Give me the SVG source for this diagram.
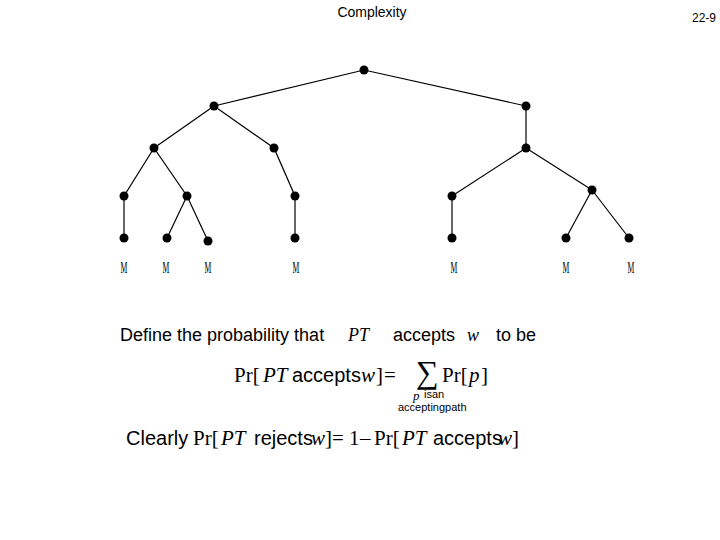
<svg xmlns="http://www.w3.org/2000/svg" width="720" height="540" viewBox="0 0 720 540">
<style>
.e{stroke:#000;stroke-width:1.2;fill:none}
.n{fill:#000}
.m{font-family:"Liberation Serif",serif;font-size:17px;fill:#000}
.s{font-family:"Liberation Sans",Arial,sans-serif;fill:#000}
.r{font-family:"Liberation Serif",serif;fill:#000}
.i{font-family:"Liberation Serif",serif;font-style:italic;fill:#000}
</style>
<rect width="720" height="540" fill="#fff"/>
<text class="s" x="372" y="17" font-size="14" text-anchor="middle">Complexity</text>
<text class="s" x="716" y="22" font-size="12" text-anchor="end">22-9</text>
<g id="connectors">
<line class="e" x1="364" y1="70" x2="214" y2="106"/>
<line class="e" x1="364" y1="70" x2="526" y2="106"/>
<line class="e" x1="214" y1="106" x2="154" y2="148"/>
<line class="e" x1="214" y1="106" x2="274" y2="148"/>
<line class="e" x1="154" y1="148" x2="124" y2="196"/>
<line class="e" x1="154" y1="148" x2="187" y2="196"/>
<line class="e" x1="274" y1="148" x2="295" y2="196"/>
<line class="e" x1="124" y1="196" x2="124" y2="238"/>
<line class="e" x1="187" y1="196" x2="167" y2="238"/>
<line class="e" x1="187" y1="196" x2="208" y2="241"/>
<line class="e" x1="295" y1="196" x2="295" y2="238"/>
<line class="e" x1="526" y1="106" x2="526" y2="148"/>
<line class="e" x1="526" y1="148" x2="452" y2="196"/>
<line class="e" x1="526" y1="148" x2="592" y2="190"/>
<line class="e" x1="452" y1="196" x2="452" y2="238"/>
<line class="e" x1="592" y1="190" x2="566" y2="238"/>
<line class="e" x1="592" y1="190" x2="629" y2="238"/>
</g>
<g id="root"><circle class="n" cx="364" cy="70" r="4.5"/></g>
<g id="n1"><circle class="n" cx="214" cy="106" r="4.5"/></g>
<g id="n2"><circle class="n" cx="526" cy="106" r="4.5"/></g>
<g id="n3"><circle class="n" cx="154" cy="148" r="4.5"/></g>
<g id="n4"><circle class="n" cx="274" cy="148" r="4.5"/></g>
<g id="n5"><circle class="n" cx="526" cy="148" r="4.5"/></g>
<g id="n6"><circle class="n" cx="124" cy="196" r="4.5"/></g>
<g id="n7"><circle class="n" cx="187" cy="196" r="4.5"/></g>
<g id="n8"><circle class="n" cx="295" cy="196" r="4.5"/></g>
<g id="n9"><circle class="n" cx="452" cy="196" r="4.5"/></g>
<g id="n10"><circle class="n" cx="592" cy="190" r="4.5"/></g>
<g id="l1"><circle class="n" cx="124" cy="238" r="4.5"/><text class="m" transform="translate(124 273) scale(0.45 1)" text-anchor="middle">M</text></g>
<g id="l2"><circle class="n" cx="167" cy="238" r="4.5"/><text class="m" transform="translate(166 273) scale(0.45 1)" text-anchor="middle">M</text></g>
<g id="l3"><circle class="n" cx="208" cy="241" r="4.5"/><text class="m" transform="translate(208 273) scale(0.45 1)" text-anchor="middle">M</text></g>
<g id="l4"><circle class="n" cx="295" cy="238" r="4.5"/><text class="m" transform="translate(296 273) scale(0.45 1)" text-anchor="middle">M</text></g>
<g id="l5"><circle class="n" cx="452" cy="238" r="4.5"/><text class="m" transform="translate(454 273) scale(0.45 1)" text-anchor="middle">M</text></g>
<g id="l6"><circle class="n" cx="566" cy="238" r="4.5"/><text class="m" transform="translate(566 273) scale(0.45 1)" text-anchor="middle">M</text></g>
<g id="l7"><circle class="n" cx="629" cy="238" r="4.5"/><text class="m" transform="translate(631 273) scale(0.45 1)" text-anchor="middle">M</text></g>
<text class="s" x="120" y="341" font-size="18">Define the probability that</text>
<text class="i" x="348" y="341" font-size="18" fill="#444">PT</text>
<text class="s" x="393" y="341" font-size="18">accepts</text>
<text class="i" x="467" y="341" font-size="18">w</text>
<text class="s" x="496" y="341" font-size="18">to be</text>
<text class="r" x="234" y="382" font-size="21">Pr[</text>
<text class="i" x="263" y="382" font-size="21">PT</text>
<text class="s" x="292" y="382" font-size="20">accepts</text>
<text class="i" x="361" y="382" font-size="21">w</text>
<text class="r" x="376" y="382" font-size="21">]</text>
<text class="r" x="384" y="382" font-size="21">=</text>
<text class="r" x="416" y="383" font-size="32">∑</text>
<text class="r" x="442" y="382" font-size="21">Pr[</text>
<text class="i" x="469" y="382" font-size="21">p</text>
<text class="r" x="481" y="382" font-size="21">]</text>
<text class="i" x="413" y="400" font-size="13">p</text>
<text class="s" x="424" y="398" font-size="11">isan</text>
<text class="s" x="398" y="411" font-size="11">acceptingpath</text>
<text class="s" x="126" y="445" font-size="20">Clearly</text>
<text class="r" x="193" y="445" font-size="21">Pr[</text>
<text class="i" x="221" y="445" font-size="21">PT</text>
<text class="s" x="254" y="445" font-size="20">rejects</text>
<text class="i" x="311" y="445" font-size="21">w</text>
<text class="r" x="325" y="445" font-size="21">]</text>
<text class="r" x="332" y="445" font-size="21">=</text>
<text class="r" x="349" y="445" font-size="21">1</text>
<text class="r" x="360" y="445" font-size="21">–</text>
<text class="r" x="374" y="445" font-size="21">Pr[</text>
<text class="i" x="402" y="445" font-size="21">PT</text>
<text class="s" x="433" y="445" font-size="20">accepts</text>
<text class="i" x="498" y="445" font-size="21">w</text>
<text class="r" x="512" y="445" font-size="21">]</text>
</svg>
